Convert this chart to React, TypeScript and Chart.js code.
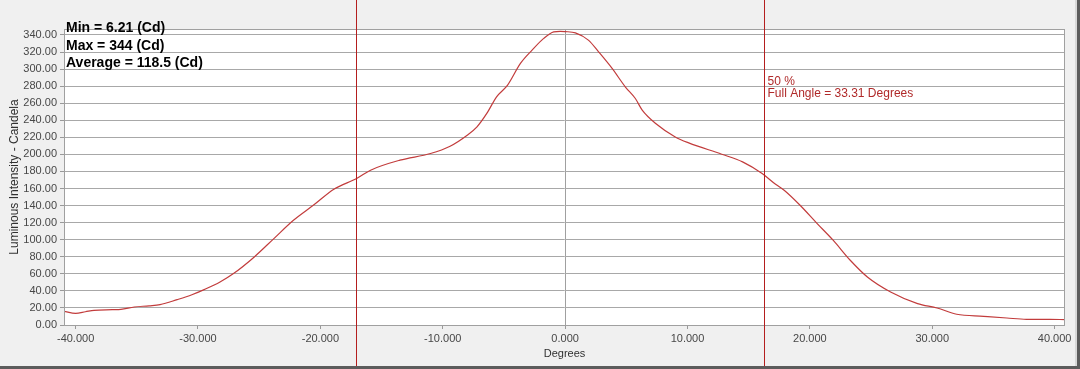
import React, { useEffect, useRef } from "react";
import { Chart, registerables } from "chart.js";

Chart.register(...registerables);

// Data
const DEGREES: number[] = [
  -40.95, -40.0, -39.2, -38.5, -37.0, -36.3, -35.2, -34.0, -33.1, -31.7, -30.5, -29.5, -28.2,
  -27.1, -25.4, -23.8, -22.2, -20.5, -18.9, -17.0, -15.9, -13.5, -11.0, -9.4, -8.0, -7.2,
  -6.4, -5.6, -4.7, -3.65, -2.7, -1.75, -0.93, -0.4, 0.0, 0.84, 1.9, 2.75, 3.84, 4.93, 5.74,
  6.3, 7.4, 9.0, 10.1, 12.8, 14.5, 16.1, 17.2, 17.9, 19.2, 20.6, 21.9, 23.3, 24.7, 26.6,
  28.8, 30.4, 32.0, 34.2, 36.1, 37.7, 39.6, 40.85,
];
const CANDELA: number[] = [
  16.1, 13.7, 15.5, 17.2, 18.0, 18.4, 21.1, 22.5, 23.9, 29.8, 35.5, 41.5, 50.4,
  60.3, 79.8, 101.3, 122.8, 141.2, 159.2, 172.0, 181.5, 193.2, 201.0, 209.6, 222.5, 232.3,
  248.0, 267.5, 281.2, 306.6, 322.2, 336.0, 343.7, 344.3, 344.0, 342.5, 334.0, 320.0, 300.8, 279.0, 265.5,
  251.9, 236.2, 220.5, 213.5, 200.2, 191.2, 177.6, 165.0, 158.0, 140.4, 118.9, 99.4, 75.9, 56.3, 38.7,
  25.1, 19.9, 12.6, 10.2, 8.2, 6.7, 6.7, 6.3,
];
const X_TICKS: number[] = [-40, -30, -20, -10, 0, 10, 20, 30, 40];
const Y_TICKS: number[] = [0, 20, 40, 60, 80, 100, 120, 140, 160, 180, 200, 220, 240, 260, 280, 300, 320, 340];
const HALF_ANGLE_LINES: number[] = [-17.07, 16.25];
const STATS_LINES: string[] = ["Min = 6.21 (Cd)", "Max = 344 (Cd)", "Average = 118.5 (Cd)"];
const ANGLE_LINES: string[] = ["50 %", "Full Angle = 33.31 Degrees"];

const FONT = "'Liberation Sans', Arial, sans-serif";

export default function App() {
  const canvasRef = useRef<HTMLCanvasElement | null>(null);

  useEffect(() => {
    const canvas = canvasRef.current;
    if (!canvas) return;

    const decor = {
      id: "decor",
      beforeDraw(chart: any) {
        const { ctx, chartArea: a } = chart;
        ctx.save();
        ctx.fillStyle = "#f0f0f0";
        ctx.fillRect(0, 0, chart.width, chart.height);
        ctx.fillStyle = "#ffffff";
        ctx.fillRect(a.left, a.top, a.right - a.left, a.bottom - a.top);
        ctx.restore();
      },
      afterDraw(chart: any) {
        const { ctx, chartArea: a, scales } = chart;
        ctx.save();
        // plot border
        ctx.strokeStyle = "#a0a0a0";
        ctx.lineWidth = 1;
        ctx.strokeRect(Math.round(a.left) + 0.5, Math.round(a.top) + 0.5, Math.round(a.right - a.left) - 1, Math.round(a.bottom - a.top));
        // half-intensity lines
        ctx.strokeStyle = "#b41e1e";
        ctx.lineWidth = 1;
        HALF_ANGLE_LINES.forEach((v) => {
          const x = Math.round(scales.x.getPixelForValue(v)) + 0.5;
          ctx.beginPath();
          ctx.moveTo(x, 0);
          ctx.lineTo(x, chart.height - 3);
          ctx.stroke();
        });
        // angle text
        ctx.fillStyle = "#b02a2a";
        ctx.font = `12px ${FONT}`;
        ctx.textBaseline = "alphabetic";
        ctx.textAlign = "left";
        const tx = scales.x.getPixelForValue(HALF_ANGLE_LINES[1]) + 3.5;
        ANGLE_LINES.forEach((t, i) => ctx.fillText(t, tx, 85 + i * 12));
        // stats text
        ctx.fillStyle = "#000000";
        ctx.font = `bold 14px ${FONT}`;
        STATS_LINES.forEach((t, i) => ctx.fillText(t, a.left + 2, 32 + i * 17.5));
        // window frame
        ctx.fillStyle = "#5c5c5c";
        ctx.fillRect(chart.width - 3, 0, 3, chart.height);
        ctx.fillRect(0, chart.height - 3, chart.width, 3);
        ctx.fillStyle = "#d8d8d8";
        ctx.fillRect(chart.width - 5, 0, 2, chart.height - 3);
        ctx.restore();
      },
    };

    const chart = new Chart(canvas, {
      type: "line",
      data: {
        datasets: [
          {
            data: DEGREES.map((d, i) => ({ x: d, y: CANDELA[i] })),
            borderColor: "#c23c3c",
            borderWidth: 1.2,
            pointRadius: 0,
            cubicInterpolationMode: "monotone",
            fill: false,
          },
        ],
      },
      options: {
        animation: false,
        responsive: false,
        devicePixelRatio: 1,
        layout: { padding: { left: 0, top: 29, right: 15, bottom: 0 } },
        plugins: { legend: { display: false }, tooltip: { enabled: false } },
        scales: {
          x: {
            type: "linear",
            min: -40.95,
            max: 40.85,
            afterBuildTicks: (s: any) => {
              s.ticks = X_TICKS.map((v) => ({ value: v }));
            },
            afterFit: (s: any) => {
              s.height = 44;
            },
            ticks: {
              autoSkip: false,
              maxRotation: 0,
              padding: 3,
              color: "#474747",
              font: { family: FONT, size: 11 },
              callback: (v: any) => Number(v).toFixed(3),
            },
            grid: {
              color: (c: any) => (c.tick && c.tick.value === 0 ? "#a0a0a0" : "rgba(0,0,0,0)"),
              tickColor: "#999999",
              tickLength: 4,
              drawTicks: true,
            },
            border: { display: false },
            title: {
              display: true,
              text: "Degrees",
              color: "#303030",
              font: { family: FONT, size: 11 },
              padding: { top: 0, bottom: 8 },
            },
          },
          y: {
            type: "linear",
            min: 0,
            max: 347,
            afterBuildTicks: (s: any) => {
              s.ticks = Y_TICKS.map((v) => ({ value: v }));
            },
            afterFit: (s: any) => {
              s.width = 64;
            },
            ticks: {
              autoSkip: false,
              padding: 3,
              color: "#474747",
              font: { family: FONT, size: 11 },
              callback: (v: any) => Number(v).toFixed(2),
            },
            grid: {
              color: "#a8a8a8",
              tickColor: "#999999",
              tickLength: 4,
            },
            border: { display: false },
            title: {
              display: true,
              text: "Luminous Intensity - Candela",
              color: "#303030",
              font: { family: FONT, size: 12 },
              padding: { top: 7.5, bottom: 0 },
            },
          },
        },
      },
      plugins: [decor],
    } as any);

    return () => chart.destroy();
  }, []);

  return (
    <div style={{ position: "absolute", left: 0, top: 0, width: 1080, height: 369 }}>
      <canvas ref={canvasRef} width={1080} height={369} style={{ display: "block" }} />
    </div>
  );
}
